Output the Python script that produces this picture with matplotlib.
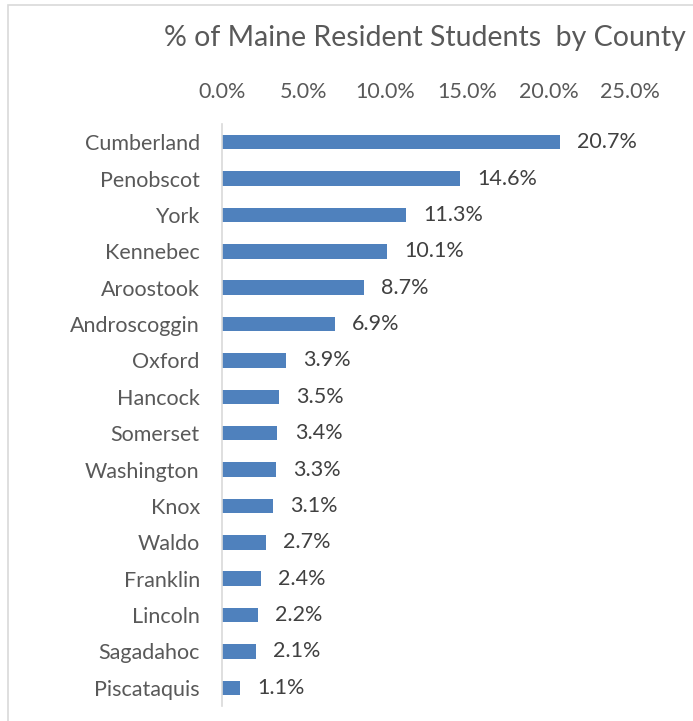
import matplotlib.pyplot as plt
from matplotlib.patches import Rectangle
from matplotlib.ticker import FuncFormatter

# County shares of Maine resident students (percent)
counties = ['Cumberland', 'Penobscot', 'York', 'Kennebec', 'Aroostook',
            'Androscoggin', 'Oxford', 'Hancock', 'Somerset', 'Washington',
            'Knox', 'Waldo', 'Franklin', 'Lincoln', 'Sagadahoc', 'Piscataquis']
shares = [20.7, 14.6, 11.3, 10.1, 8.7, 6.9, 3.9, 3.5, 3.4, 3.3,
          3.1, 2.7, 2.4, 2.2, 2.1, 1.1]
xticks = [0, 5, 10, 15, 20, 25]

plt.rcParams['font.family'] = ['Lato', 'DejaVu Sans']
grey = '#595959'

fig = plt.figure(figsize=(6.93, 7.21), dpi=100)
ax = fig.add_axes([222/693, 1 - 706/721, (630 - 222)/693, (706 - 124)/721])

pos = list(range(len(counties)))
ax.barh(pos, shares, height=0.4, color='#4F81BD')
for y, v in zip(pos, shares):
    ax.text(v + 1.05, y, '{:.1f}%'.format(v), va='center', ha='left',
            fontsize=15.5, color='#404040')

ax.set_ylim(len(counties) - 0.5, -0.5)
ax.set_xlim(0, 25)
ax.set_yticks(pos, labels=counties)
ax.set_xticks(xticks)
ax.xaxis.set_major_formatter(FuncFormatter(lambda x, p: '{:.1f}%'.format(x)))
ax.xaxis.tick_top()
ax.tick_params(axis='x', length=0, pad=16, labelsize=15.5, labelcolor=grey)
ax.tick_params(axis='y', length=0, pad=16, labelsize=15.5, labelcolor=grey)

for s in ['top', 'right', 'bottom']:
    ax.spines[s].set_visible(False)
ax.spines['left'].set_color('#D9D9D9')
ax.spines['left'].set_linewidth(1.2)

fig.text(425/693, 1 - 38/721, '% of Maine Resident Students  by County',
         ha='center', va='center', fontsize=20.5, color=grey)

# light frame around the chart area
fig.patches.append(Rectangle((8/693, -0.05), 1.2, 1 - 5/721 + 0.05,
                             transform=fig.transFigure, fill=False,
                             edgecolor='#D9D9D9', linewidth=1.2))

fig.savefig('out.png', dpi=100)
